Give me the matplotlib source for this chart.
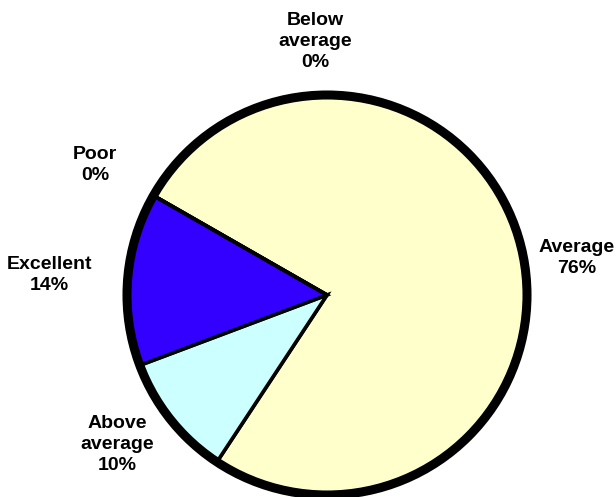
import matplotlib

matplotlib.use("Agg")
import matplotlib.pyplot as plt
from matplotlib.patches import Circle
import numpy as np

# Ratings share (percent), drawn clockwise
categories = ["Average", "Above\naverage", "Excellent", "Poor", "Below\naverage"]
shares = [76, 10, 14, 0, 0]
colors = ["#FFFFCC", "#CCFFFF", "#3300FF", "#FF00FF", "#FFFF00"]

# Where each label sits: polar angle (deg) and distance in pie radii
label_angle = [8.5, 215.5, 175.8, 150.7, 92.7]
label_dist = [1.26, 1.29, 1.39, 1.33, 1.27]

plt.rcParams["font.family"] = ["Liberation Sans", "DejaVu Sans"]

fig = plt.figure(figsize=(6.16, 4.97), dpi=100)
ax = fig.add_axes([0, 0, 1, 1])
ax.axis("off")

ax.pie(
    shares,
    colors=colors,
    startangle=150.2,
    counterclock=False,
    radius=1.0,
    wedgeprops=dict(edgecolor="black", linewidth=2.6),
)
ax.set_xlim(-1.635, 1.445)
ax.set_ylim(-1.01, 1.475)
ax.set_aspect("auto")

# heavy outer rim
ax.add_patch(Circle((0, 0), 1.0, fill=False, edgecolor="black", linewidth=6.5, zorder=5))

for name, val, ang, dist in zip(categories, shares, label_angle, label_dist):
    t = np.deg2rad(ang)
    ax.text(
        dist * np.cos(t),
        dist * np.sin(t),
        f"{name}\n{val}%",
        ha="center",
        va="center",
        fontsize=14,
        fontweight="bold",
        linespacing=1.3,
    )

fig.savefig("out.png", dpi=100)
